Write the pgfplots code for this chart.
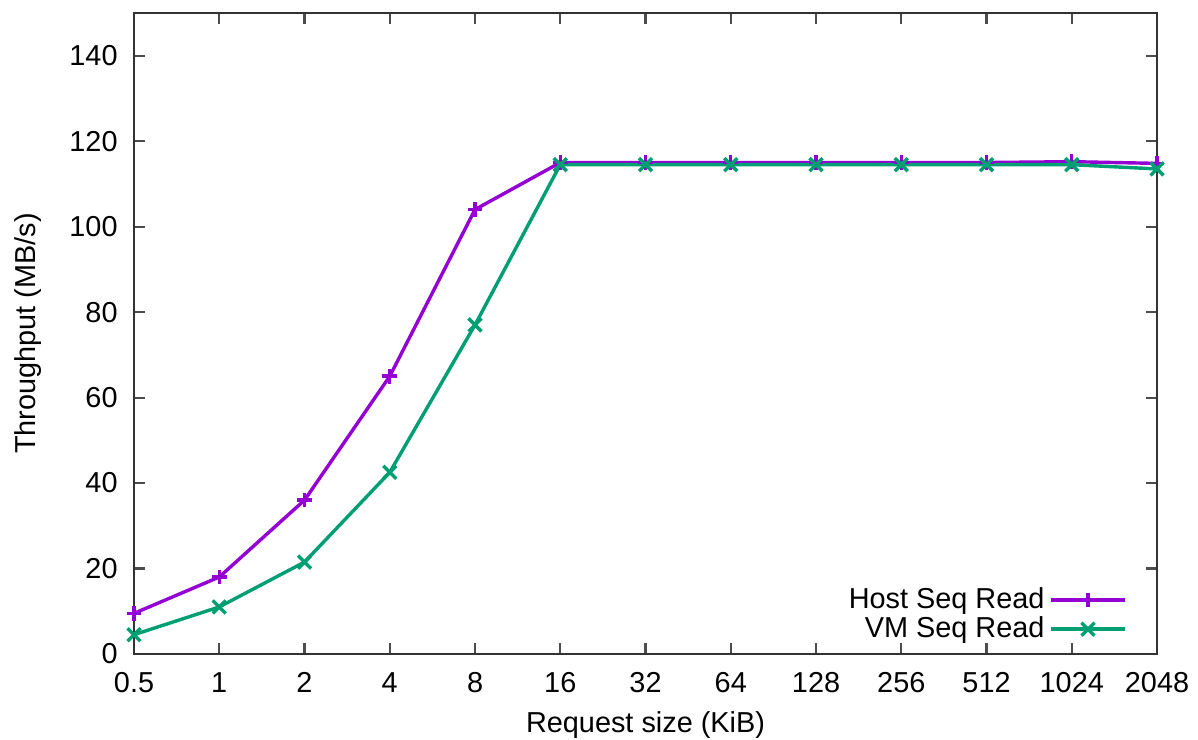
\documentclass[border=0pt]{standalone}
\usepackage{pgfplots}
\pgfplotsset{compat=1.18}
\usepackage{fontspec}
\setmainfont{Liberation Sans}
\definecolor{gpPurple}{HTML}{9400D3}
\definecolor{gpGreen}{HTML}{009E73}
\begin{document}
\fontsize{11}{13}\selectfont
\begin{tikzpicture}
\begin{axis}[
  scale only axis, width=13.71cm, height=8.59cm,
  xmin=0, xmax=12, ymin=0, ymax=150,
  xtick={0,...,12},
  xticklabels={0.5,1,2,4,8,16,32,64,128,256,512,1024,2048},
  ytick={0,20,...,140},
  tick align=inside, major tick length=0.15cm,
  axis line style={line width=1pt, color=black!80},
  every tick/.style={line width=0.8pt, color=black!70},
  /pgf/number format/assume math mode=true,
  tick label style={font=\fontsize{11}{13}\selectfont},
  xticklabel style={yshift=-3.2pt},
  yticklabel style={xshift=-2.4pt},
  xlabel={Request size (KiB)}, ylabel={Throughput (MB/s)},
  xlabel style={at={(rel axis cs:0.5,0)}, anchor=base, yshift=-1.059cm},
  ylabel style={at={(rel axis cs:0,0.5)}, anchor=center, yshift=1.414cm},
  legend style={at={(rel axis cs:1,0)}, anchor=south east, xshift=-0.3cm, yshift=0.015cm,
    draw=none, fill=none, row sep=-2.5pt, font=\fontsize{11}{13}\selectfont},
  legend cell align=right, legend plot pos=right,
  legend image code/.code={
    \draw[#1] (0.1cm,0cm) -- (1.08cm,0cm);
    \draw[#1, only marks] plot coordinates {(0.59cm,0cm)};
  },
]
\addplot[gpPurple, line width=1.3pt, mark=+, mark size=2.8pt, mark options={line width=1.3pt}] coordinates {
(0,9.5) (1,18) (2,36) (3,65) (4,104) (5,115) (6,115) (7,115) (8,115) (9,115) (10,115) (11,115.2) (12,114.8)};
\addlegendentry{Host Seq Read}
\addplot[gpGreen, line width=1.3pt, mark=x, mark size=3.5pt, mark options={line width=1.3pt}] coordinates {
(0,4.5) (1,11) (2,21.5) (3,42.5) (4,77) (5,114.5) (6,114.5) (7,114.5) (8,114.5) (9,114.5) (10,114.5) (11,114.5) (12,113.5)};
\addlegendentry{VM Seq Read}
\end{axis}
\pgfresetboundingbox
\path[use as bounding box] ([xshift=-1.796cm,yshift=-1.152cm]current axis.south west) rectangle ([xshift=0.549cm,yshift=0.174cm]current axis.north east);
\end{tikzpicture}
\end{document}
